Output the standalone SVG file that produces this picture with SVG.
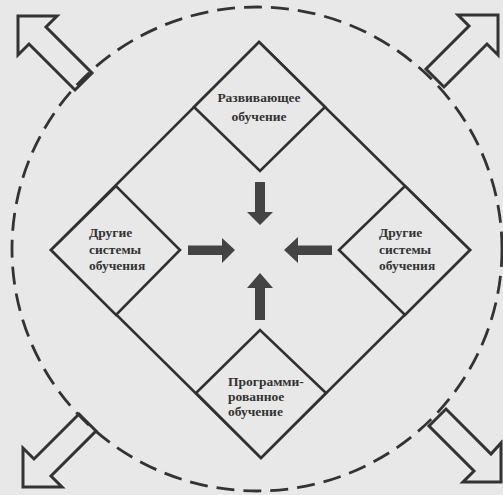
<svg xmlns="http://www.w3.org/2000/svg" width="503" height="495" viewBox="0 0 503 495">
<style>
.ln{fill:none;stroke:#303030;stroke-width:2.6;stroke-linejoin:miter}
.dia{fill:#e8e8e8;stroke:#303030;stroke-width:2.6}
.t{font-family:"Liberation Serif","Times New Roman",serif;font-size:13.5px;font-weight:bold;fill:#333}
.ar{fill:#444;stroke:none}
.hol{fill:none;stroke:#333;stroke-width:3;stroke-linejoin:miter}
</style>
<rect x="0" y="0" width="503" height="495" fill="#e8e8e8"/>
<ellipse id="circle" cx="257" cy="249" rx="245" ry="242" fill="none" stroke="#333" stroke-width="2.8" stroke-dasharray="18 9"/>
<g id="frame">
<polygon class="ln" points="259,42 470,250 261,458 51,250"/>
</g>
<g id="node-top">
<polygon class="dia" points="259,42 325,107 260,171 194,107"/>
<text class="t" x="259" y="102" text-anchor="middle">Развивающее</text>
<text class="t" x="259" y="121" text-anchor="middle">обучение</text>
</g>
<g id="node-left">
<polygon class="dia" points="51,250 116,186 180,250 116,315"/>
<text class="t" x="89" y="237">Другие</text>
<text class="t" x="89" y="254">системы</text>
<text class="t" x="89" y="270">обучения</text>
</g>
<g id="node-right">
<polygon class="dia" points="470,250 405,186 339,250 405,315"/>
<text class="t" x="379" y="237">Другие</text>
<text class="t" x="379" y="254">системы</text>
<text class="t" x="379" y="270">обучения</text>
</g>
<g id="node-bottom">
<polygon class="dia" points="261,458 196,393 260,330 326,393"/>
<text class="t" x="228" y="386">Программи-</text>
<text class="t" x="228" y="401">рованное</text>
<text class="t" x="228" y="416">обучение</text>
</g>
<g id="connectors">
<polygon class="ar" points="255,182 265,182 265,212 273,212 260,225 247,212 255,212"/>
<polygon class="ar" points="188,245.5 222,245.5 222,238 235,250 222,263 222,255 188,255"/>
<polygon class="ar" points="332,245.5 298,245.5 298,237 284,250 298,263 298,255 332,255"/>
<polygon class="ar" points="255,320 265,320 265,288 273,288 260,273 247,288 255,288"/>
<polygon class="hol" points="18,16 57,16 46,27 92,73 75,90 29,44 18,55"/>
<polygon class="hol" points="498,15 458,15 469,26 426,69 444,87 487,44 498,55"/>
<polygon class="hol" points="23,487 23,448 34,459 79,414 96,431 51,476 62,487"/>
<polygon class="hol" points="501,482 463,482 474,471 429,426 446,409 491,454 501,443"/>
</g>
</svg>
